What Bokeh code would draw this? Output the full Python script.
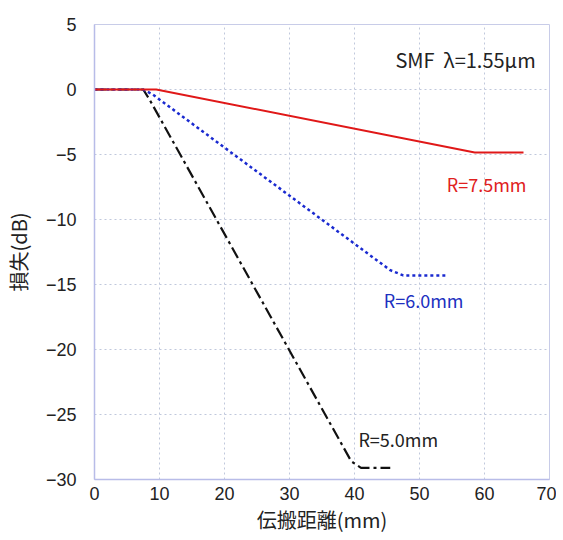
from bokeh.plotting import figure
from bokeh.models import Range1d, FixedTicker
from bokeh.core.properties import value
from bokeh.embed import file_html
from bokeh.resources import INLINE

# data
r75_x = [0, 9.5, 58.5, 66]
r75_y = [0, 0, -4.85, -4.85]
r60_x = [0, 7.5, 9, 45.5, 47.5, 54]
r60_y = [0, 0, -0.4, -13.9, -14.3, -14.3]
r50_x = [0, 7.5, 8.5, 39.5, 41, 45.5]
r50_y = [0, 0, -0.8, -28.6, -29.1, -29.1]
x_ticks = [0, 10, 20, 30, 40, 50, 60, 70]
y_ticks = [5, 0, -5, -10, -15, -20, -25, -30]

label_text = ["SMF\u00a0\u00a0λ=1.55μm", "R=7.5mm", "R=6.0mm", "R=5.0mm"]
label_x = [46.3, 54.2, 44.5, 40.6]
label_y = [2.3, -7.3, -16.2, -26.9]
label_color = ["#222222", "#e02020", "#2030c0", "#222222"]
label_size = ["20px", "18px", "18px", "18px"]

p = figure(frame_width=455, frame_height=455, output_backend="svg", toolbar_location=None,
           x_range=Range1d(0, 70), y_range=Range1d(-30, 5),
           min_border_left=85, min_border_right=7, min_border_top=24, min_border_bottom=45)
p.background_fill_color = "white"
p.border_fill_color = "white"
p.outline_line_color = "#c8cce8"

for ax in (p.xaxis[0], p.yaxis[0]):
    ax.major_tick_line_color = None
    ax.minor_tick_line_color = None
    ax.axis_line_color = "#b8bce8"
    ax.axis_line_width = 1.5
    ax.major_label_text_font = "Liberation Sans"
    ax.major_label_text_font_size = "18px"
    ax.major_label_text_color = "#222222"
    ax.axis_label_text_font = "Noto Sans CJK JP"
    ax.axis_label_text_font_size = "20px"
    ax.axis_label_text_font_style = "normal"
    ax.axis_label_text_color = "#222222"

p.xaxis.ticker = FixedTicker(ticks=x_ticks)
p.yaxis.ticker = FixedTicker(ticks=y_ticks)
p.xaxis.axis_label = "伝搬距離(mm)"
p.yaxis.axis_label = "損失(dB)"
p.xaxis.major_label_standoff = 1
p.yaxis.major_label_standoff = 12
p.xaxis.axis_label_standoff = 2
p.yaxis.axis_label_standoff = 10

p.grid.grid_line_color = "#c0c8dc"
p.grid.grid_line_dash = "2 3"
p.grid.grid_line_width = 1

p.line(r50_x, r50_y, line_color="#111111", line_width=2.2, line_dash="12 4 3 4")
p.line(r60_x, r60_y, line_color="#1a2ad0", line_width=2.5, line_dash="3 3")
p.line(r75_x, r75_y, line_color="#e01818", line_width=2)

p.text(x=label_x, y=label_y, text=label_text, text_color=label_color,
       text_font=value("Noto Sans CJK JP"), text_font_size=label_size,
       text_baseline="middle", text_align="left")

open("out.html", "w").write(file_html(p, INLINE))
